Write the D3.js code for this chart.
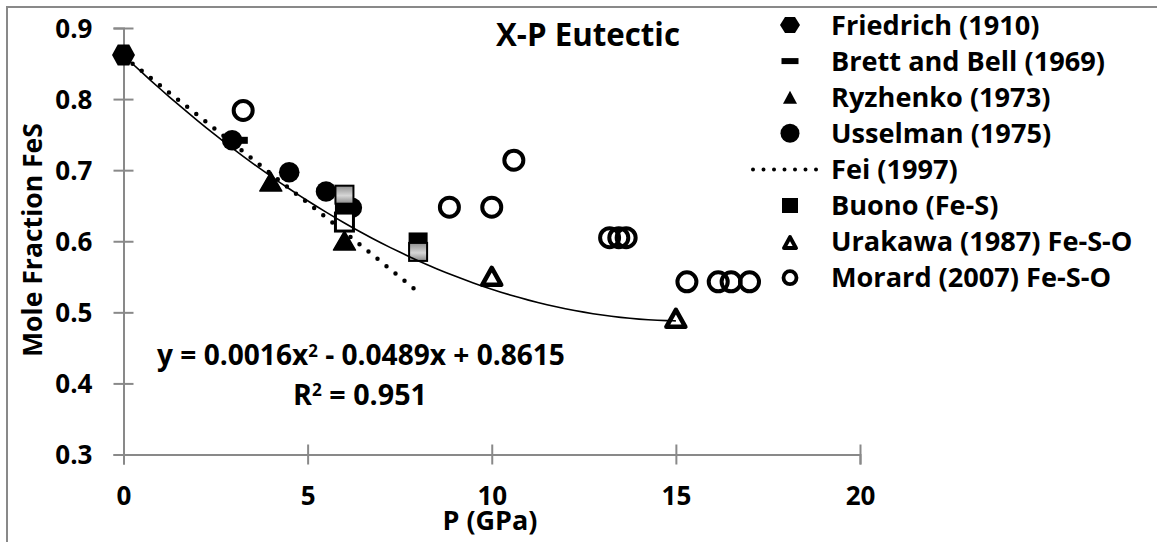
<!DOCTYPE html>
<html>
<head>
<meta charset="utf-8">
<script src="https://cdn.jsdelivr.net/npm/d3@7"></script>
<style>
  html, body { margin: 0; padding: 0; background: #fff; }
  svg { display: block; font-family: "Open Sans", Lato, sans-serif; font-weight: 700; }
</style>
</head>
<body>
<svg id="chart" width="1157" height="542"></svg>
<script>
// ---------- data ----------
const xTicks = [0, 5, 10, 15, 20];
const yTicks = [0.3, 0.4, 0.5, 0.6, 0.7, 0.8, 0.9];
const friedrich = [[0, 0.862]];
const brettBell = [[3.05, 0.742]];
const ryzhenko = [[4.0, 0.684], [6.0, 0.601]];
const usselman = [[2.95, 0.742], [4.5, 0.697], [5.5, 0.670], [6.2, 0.647]];
const fei = [[0, 0.86], [2, 0.778], [4, 0.695], [6, 0.613], [7.9, 0.533]];
const buono = [[6.0, 0.645], [8.0, 0.599]];
const buonoGray = [[6.0, 0.6655], [8.0, 0.585]];
const buonoWhite = [[6.0, 0.627]];
const urakawa = [[10.0, 0.552], [15.0, 0.493]];
const morard = [[3.25, 0.784], [8.85, 0.648], [10.0, 0.648], [10.6, 0.714], [13.2, 0.605], [13.45, 0.605], [13.65, 0.605], [15.3, 0.543], [16.15, 0.543], [16.5, 0.543], [17.0, 0.543]];
const trendCoef = [0.8615, -0.0489, 0.0016];
const trendRange = [0, 15];
const trendSamples = d3.range(trendRange[0], trendRange[1] + 0.001, 0.25);
const legendLabels = ["Friedrich (1910)", "Brett and Bell (1969)", "Ryzhenko (1973)", "Usselman (1975)", "Fei (1997)", "Buono (Fe-S)", "Urakawa (1987) Fe-S-O", "Morard (2007) Fe-S-O"];
const legendKinds = ["hex", "dash", "tri", "circle", "dots", "square", "otri", "ocircle"];
const titleText = "X-P Eutectic";
const xLabel = "P (GPa)";
const yLabel = "Mole Fraction FeS";
const eqParts = ["y = 0.0016x", "2", " - 0.0489x + 0.8615"];
const r2Parts = ["R", "2", " = 0.951"];

// ---------- layout (pixel widths of text blocks in the reference) ----------
const legendWidths = [205, 270, 218, 217, 129, 167, 299, 294];

// ---------- setup ----------
const svg = d3.select("#chart");
const FS = 26;
const axisColor = "#898989";

function fitWidth(sel, target) {
  const node = sel.node();
  const fs = parseFloat(node.style.fontSize);
  const w = node.getComputedTextLength();
  const nfs = fs * target / w;
  sel.style("font-size", nfs + "px");
  return nfs;
}

const x = d3.scaleLinear().domain([0, 20]).range([123.5, 860]);
const y = d3.scaleLinear().domain([0.3, 0.9]).range([454.5, 28]);

// outer border
svg.append("rect").attr("x", 7).attr("y", 7).attr("width", 1300).attr("height", 700)
  .attr("fill", "none").attr("stroke", axisColor).attr("stroke-width", 2);

// gradient for gray squares
const defs = svg.append("defs");
const grad = defs.append("linearGradient").attr("id", "grayGrad").attr("x1", 0).attr("y1", 0).attr("x2", 0).attr("y2", 1);
grad.append("stop").attr("offset", "0%").attr("stop-color", "#8e8e8e");
grad.append("stop").attr("offset", "55%").attr("stop-color", "#d6d6d6");
grad.append("stop").attr("offset", "100%").attr("stop-color", "#8a8a8a");

// axes
const yAxis = svg.append("g").attr("transform", `translate(${x(0)},0)`)
  .call(d3.axisLeft(y).tickValues(yTicks).tickFormat(d3.format(".1f")).tickSize(10).tickPadding(21));
const xAxis = svg.append("g").attr("transform", `translate(0,${y(0.3)})`)
  .call(d3.axisBottom(x).tickValues(xTicks).tickFormat(d3.format("d")).tickSize(10).tickPadding(22));
[yAxis, xAxis].forEach(g => {
  g.select(".domain").attr("stroke", axisColor).attr("stroke-width", 2);
  g.selectAll(".tick line").attr("stroke", axisColor).attr("stroke-width", 2);
  g.selectAll(".tick text").attr("fill", "#000").style("font-size", FS + "px")
    .style("font-family", "'Open Sans', sans-serif").style("font-weight", 700);
});
yAxis.selectAll(".tick line").attr("x1", 10).attr("x2", -10);
xAxis.selectAll(".tick line").attr("y1", -10).attr("y2", 10);
yAxis.selectAll(".tick text").attr("dy", "0.36em");

// ---------- marker helpers ----------
function hexPath(w, h) {
  const a = w / 2, b = h / 2, c = w / 4;
  return `M${-a},0L${-c},${-b}L${c},${-b}L${a},0L${c},${b}L${-c},${b}Z`;
}
function triPath(w, h) {
  return `M0,${-h / 2}L${w / 2},${h / 2}L${-w / 2},${h / 2}Z`;
}

const plot = svg.append("g");

// Friedrich hexagons
plot.selectAll(".fr").data(friedrich).join("path")
  .attr("d", hexPath(23, 21)).attr("transform", d => `translate(${x(d[0])},${y(d[1])})`).attr("fill", "#000");
// Brett and Bell dashes
plot.selectAll(".bb").data(brettBell).join("rect")
  .attr("x", d => x(d[0]) - 12).attr("y", d => y(d[1]) - 3.5).attr("width", 24).attr("height", 7).attr("fill", "#000");
// Ryzhenko triangles
plot.selectAll(".ry").data(ryzhenko).join("path")
  .attr("d", triPath(22, 19)).attr("transform", d => `translate(${x(d[0])},${y(d[1])})`).attr("fill", "#000")
  .attr("stroke", "#000").attr("stroke-width", 1.5).attr("stroke-linejoin", "round");
// Usselman circles
plot.selectAll(".us").data(usselman).join("circle")
  .attr("cx", d => x(d[0])).attr("cy", d => y(d[1])).attr("r", 10.3).attr("fill", "#000");
// Fei dotted line
plot.append("path").datum(fei)
  .attr("d", d3.line().x(d => x(d[0])).y(d => y(d[1])))
  .attr("fill", "none").attr("stroke", "#000").attr("stroke-width", 4.5)
  .attr("stroke-linecap", "round").attr("stroke-dasharray", "0 11.6");
// Buono squares (black)
plot.selectAll(".bu").data(buono).join("rect")
  .attr("x", d => x(d[0]) - 9.5).attr("y", d => y(d[1]) - 9.5).attr("width", 19).attr("height", 19)
  .attr("fill", "#000");
// gray gradient squares
plot.selectAll(".bg").data(buonoGray).join("rect")
  .attr("x", d => x(d[0]) - 9).attr("y", d => y(d[1]) - 9).attr("width", 18).attr("height", 18)
  .attr("fill", "url(#grayGrad)").attr("stroke", "#000").attr("stroke-width", 2);
// white squares
plot.selectAll(".bw").data(buonoWhite).join("rect")
  .attr("x", d => x(d[0]) - 9).attr("y", d => y(d[1]) - 9).attr("width", 18).attr("height", 18)
  .attr("fill", "#fff").attr("stroke", "#000").attr("stroke-width", 3);
// Urakawa open triangles
plot.selectAll(".ur").data(urakawa).join("path")
  .attr("d", triPath(19, 17)).attr("transform", d => `translate(${x(d[0])},${y(d[1]) + 1})`)
  .attr("fill", "#fff").attr("stroke", "#000").attr("stroke-width", 4.5).attr("stroke-linejoin", "round");
// Morard open circles
plot.selectAll(".mo").data(morard).join("circle")
  .attr("cx", d => x(d[0])).attr("cy", d => y(d[1])).attr("r", 9.5)
  .attr("fill", "none").attr("stroke", "#000").attr("stroke-width", 4);
// polynomial trendline
plot.append("path").datum(trendSamples)
  .attr("d", d3.line().x(d => x(d)).y(d => y(trendCoef[0] + trendCoef[1] * d + trendCoef[2] * d * d)).curve(d3.curveMonotoneX))
  .attr("fill", "none").attr("stroke", "#000").attr("stroke-width", 1.6);

// ---------- texts ----------
const title = svg.append("text").attr("x", 496).attr("y", 46).style("font-size", "30px").text(titleText);
fitWidth(title, 184);
const xl = svg.append("text").attr("x", 490).attr("y", 530).attr("text-anchor", "middle").style("font-size", FS + "px").text(xLabel);
fitWidth(xl, 95);
const yl = svg.append("text").attr("transform", "translate(42,240) rotate(-90)").attr("text-anchor", "middle")
  .style("font-size", FS + "px").text(yLabel);
fitWidth(yl, 234);

function supText(parts, cx, by, target) {
  const t = svg.append("text").attr("x", cx).attr("y", by).attr("text-anchor", "middle").style("font-size", FS + "px");
  t.append("tspan").text(parts[0]);
  const s = t.append("tspan").style("font-size", "0.6em").text(parts[1]);
  const b = t.append("tspan").text(parts[2]);
  const fs = fitWidth(t, target);
  s.attr("dy", -0.3 * fs);
  b.attr("dy", 0.3 * fs);
  return t;
}
supText(eqParts, 361, 365, 408);
supText(r2Parts, 360, 405, 134);

// ---------- legend ----------
const legendRowY = d3.range(legendLabels.length).map(i => 25 + i * 36.1);
const lg = svg.append("g");
const legendTexts = [];
legendLabels.forEach((lab, i) => {
  const cy = legendRowY[i], cx = 790;
  const k = legendKinds[i];
  if (k === "hex") lg.append("path").attr("d", hexPath(20, 16)).attr("transform", `translate(${cx},${cy})`);
  if (k === "dash") lg.append("rect").attr("x", cx - 8.5).attr("y", cy - 3).attr("width", 17).attr("height", 6);
  if (k === "tri") lg.append("path").attr("d", triPath(14, 13)).attr("transform", `translate(${cx},${cy})`);
  if (k === "circle") lg.append("circle").attr("cx", cx).attr("cy", cy).attr("r", 9.5);
  if (k === "dots") lg.append("line").attr("x1", 753).attr("x2", 820).attr("y1", cy).attr("y2", cy)
    .attr("stroke", "#000").attr("stroke-width", 4).attr("stroke-linecap", "round").attr("stroke-dasharray", "0 10.5");
  if (k === "square") lg.append("rect").attr("x", cx - 8).attr("y", cy - 7.5).attr("width", 16).attr("height", 15);
  if (k === "otri") lg.append("path").attr("d", triPath(12, 11)).attr("transform", `translate(${cx},${cy + 1})`)
    .attr("fill", "#fff").attr("stroke", "#000").attr("stroke-width", 4).attr("stroke-linejoin", "round");
  if (k === "ocircle") lg.append("circle").attr("cx", cx).attr("cy", cy).attr("r", 6.5)
    .attr("fill", "none").attr("stroke", "#000").attr("stroke-width", 3.8);
  const t = lg.append("text").attr("x", 831).attr("y", cy).attr("dy", "0.35em").style("font-size", FS + "px").text(lab);
  legendTexts.push(t);
});
// one common legend font size, scaled so the total text width matches the reference
const measured = d3.sum(legendTexts, t => t.node().getComputedTextLength());
const legendFS = FS * d3.sum(legendWidths) / measured;
legendTexts.forEach(t => t.style("font-size", legendFS + "px"));
</script>
</body>
</html>
